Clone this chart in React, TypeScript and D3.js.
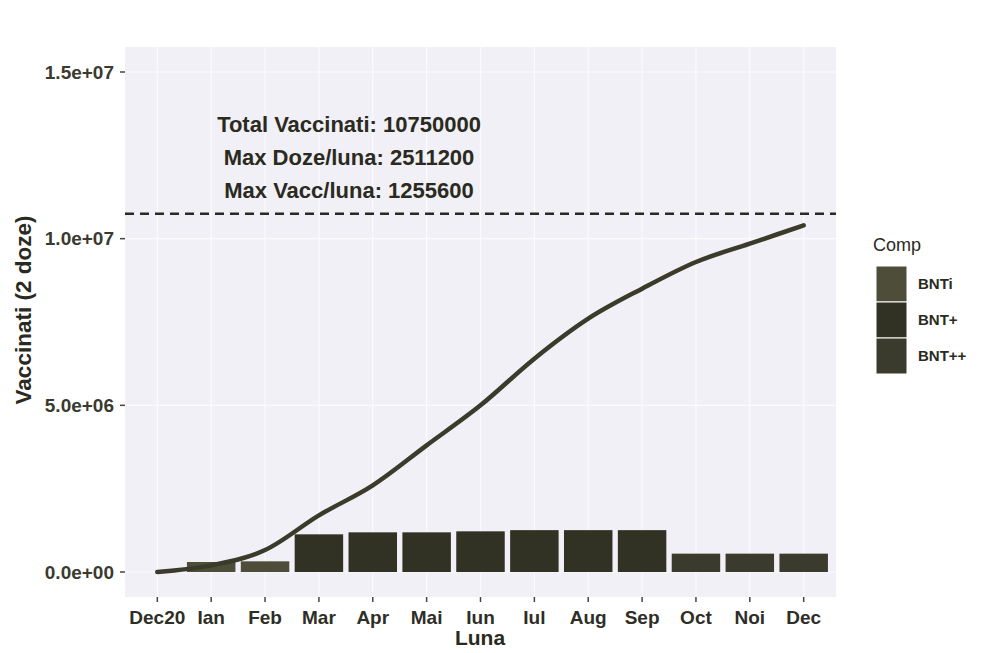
import React from 'react';
import * as d3 from 'd3';

const months = ['Dec20', 'Ian', 'Feb', 'Mar', 'Apr', 'Mai', 'Iun', 'Iul', 'Aug', 'Sep', 'Oct', 'Noi', 'Dec'];
const comps = ['BNTi', 'BNT+', 'BNT++'];
// vaccinated per month, by component
const bntI = [0, 300000, 320000, 0, 0, 0, 0, 0, 0, 0, 0, 0, 0];
const bntPlus = [0, 0, 0, 1130000, 1190000, 1190000, 1220000, 1255600, 1255600, 1255600, 0, 0, 0];
const bntPlusPlus = [0, 0, 0, 0, 0, 0, 0, 0, 0, 0, 550000, 550000, 550000];
// cumulative curve
const cumulative = [0, 200000, 660000, 1700000, 2600000, 3800000, 5000000, 6400000, 7600000, 8500000, 9300000, 9850000, 10400000];
const yTicks = [0, 5000000, 10000000, 15000000];
const totalVacc = 10750000;
const notes = ['Total Vaccinati: 10750000', 'Max Doze/luna: 2511200', 'Max Vacc/luna:  1255600'];
const compColors = ['#4d4d3a', '#313224', '#3a3b2c'];

const font = '"Liberation Sans", Arial, sans-serif';

function fmtExp(v: number) {
  const [m, e] = v.toExponential(1).split('e');
  const sign = e[0] === '-' ? '-' : '+';
  const digits = e.replace(/[+-]/, '').padStart(2, '0');
  return `${m}e${sign}${digits}`;
}

export default function App() {
  const W = 984, H = 653;
  const left = 125, right = 836, top = 47, bottom = 597;

  // ggplot-like discrete axis: 0.6 step expansion on each side
  const step = (right - left) / (months.length - 1 + 1.2);
  const x = d3.scalePoint<string>().domain(months).range([left + step * 0.6, right - step * 0.6]);
  const cx = (m: string) => x(m) as number;
  const bw = step * 0.9;

  const y = d3.scaleLinear().domain([-750000, 15750000]).range([bottom, top]);

  const rows = months.map((m, i) => ({ month: m, 'BNTi': bntI[i], 'BNT+': bntPlus[i], 'BNT++': bntPlusPlus[i] }));
  const stacked = d3.stack<any>().keys(comps)(rows);

  const line = d3.line<number>()
    .x((_, i) => cx(months[i]))
    .y((d) => y(d))
    .curve(d3.curveMonotoneX);

  const textCol = '#2a2a21';

  return (
    <svg width={W} height={H} style={{ position: 'absolute', left: 0, top: 0, background: '#fff' }} fontFamily={font}>
      <rect x={left} y={top} width={right - left} height={bottom - top} fill="#f0f0f6" />
      {yTicks.map((t) => (
        <line key={'gy' + t} x1={left} x2={right} y1={y(t)} y2={y(t)} stroke="#fbfbfd" strokeWidth={1.2} />
      ))}
      {months.map((m) => (
        <line key={'gx' + m} x1={cx(m)} x2={cx(m)} y1={top} y2={bottom} stroke="#fbfbfd" strokeWidth={1.2} />
      ))}

      {stacked.map((s, k) => (
        <g key={s.key} fill={compColors[k]}>
          {s.map((d, i) => (d[1] - d[0] > 0 ? (
            <rect key={i} x={cx(months[i]) - bw / 2} width={bw} y={y(d[1])} height={y(d[0]) - y(d[1])} />
          ) : null))}
        </g>
      ))}

      <path d={line(cumulative) || ''} fill="none" stroke="#3a3b2a" strokeWidth={4.5} strokeLinecap="round" />

      <line x1={left} x2={right} y1={y(totalVacc)} y2={y(totalVacc)} stroke="#2a2a22" strokeWidth={2.5} strokeDasharray="9 6" />

      {notes.map((n, i) => (
        <text key={n} x={349} y={132 + i * 33} textAnchor="middle" fontSize={22} fontWeight="bold" fill={textCol}>{n}</text>
      ))}

      {yTicks.map((t) => (
        <g key={'ty' + t}>
          <line x1={left - 5} x2={left} y1={y(t)} y2={y(t)} stroke="#444" strokeWidth={1.5} />
          <text x={left - 11} y={y(t)} dy="0.35em" textAnchor="end" fontSize={19} fontWeight="bold" fill="#3a3a30">{fmtExp(t)}</text>
        </g>
      ))}
      {months.map((m) => (
        <g key={'tx' + m}>
          <line x1={cx(m)} x2={cx(m)} y1={bottom} y2={bottom + 5} stroke="#444" strokeWidth={1.5} />
          <text x={cx(m)} y={bottom + 27} textAnchor="middle" fontSize={19} fontWeight="bold" fill="#2e2e26">{m}</text>
        </g>
      ))}

      <text x={480} y={645} textAnchor="middle" fontSize={21} fontWeight="bold" fill={textCol}>Luna</text>
      <text transform={`translate(31, ${(top + bottom) / 2 - 12}) rotate(-90)`} textAnchor="middle" fontSize={22.5} fontWeight="bold" fill={textCol}>Vaccinati (2 doze)</text>

      <g>
        <text x={873} y={251} fontSize={18} fill={textCol}>Comp</text>
        {comps.map((c, i) => (
          <g key={c}>
            <rect x={876} y={266 + i * 36} width={31} height={36} fill={compColors[i]} stroke="#fff" strokeWidth={1} />
            <text x={918} y={284 + i * 36} dy="0.35em" fontSize={15} fontWeight="bold" fill={textCol}>{c}</text>
          </g>
        ))}
      </g>
    </svg>
  );
}
